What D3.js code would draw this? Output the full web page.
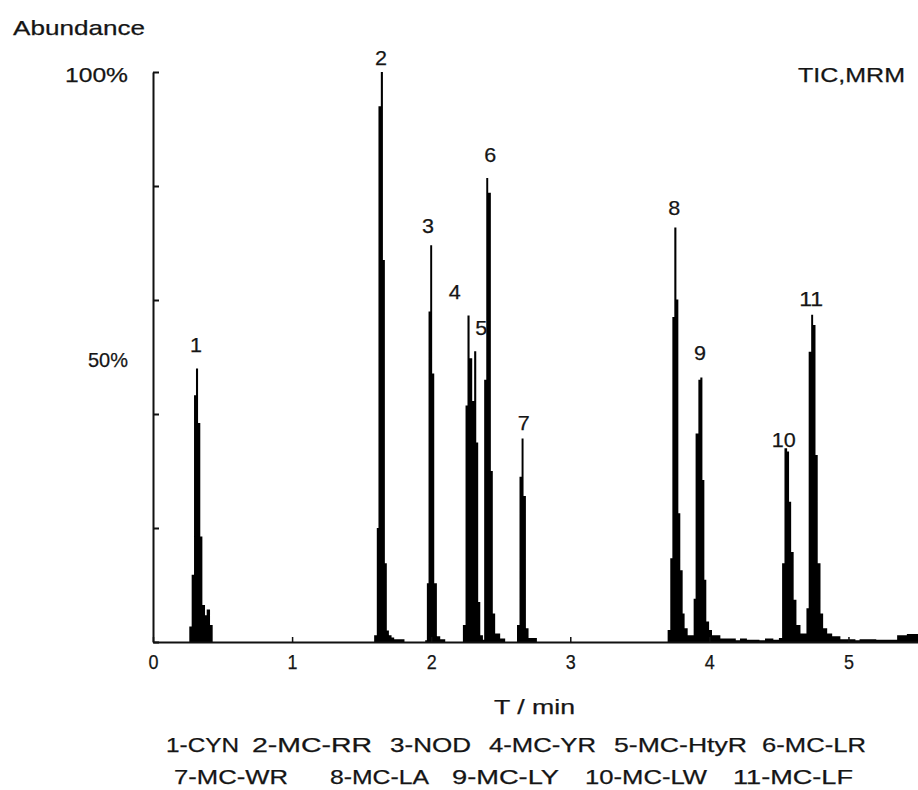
<!DOCTYPE html>
<html>
<head>
<meta charset="utf-8">
<script src="https://cdn.jsdelivr.net/npm/d3@7"></script>
<style>
  html, body { margin: 0; padding: 0; background: #fff; }
  svg { display: block; }
  text { font-family: "Liberation Sans", Arial, sans-serif; fill: #151515; stroke: #151515; stroke-width: 0.25; }
</style>
</head>
<body>
<svg id="chart" width="918" height="790"></svg>
<script>
// ---------- data ----------
// retention time (min) and abundance (%) of the step trace (TIC, MRM)
const times = [
  0,
  0.261, 0.278, 0.295, 0.309, 0.324, 0.340, 0.355, 0.374, 0.386, 0.410, 0.429,
  1.590, 1.609, 1.621, 1.638, 1.653, 1.667, 1.681, 1.696, 1.715, 1.734, 1.808,
  1.957, 1.969, 1.981, 1.993, 2.007, 2.022, 2.041, 2.065, 2.101,
  2.228, 2.247, 2.261, 2.276, 2.295, 2.309, 2.324, 2.338, 2.353, 2.372,
  2.381, 2.396, 2.410, 2.429, 2.443, 2.460, 2.496, 2.532,
  2.617, 2.635, 2.650, 2.664, 2.681, 2.700, 2.760,
  3.700, 3.719, 3.734, 3.748, 3.763, 3.777, 3.791, 3.808, 3.822, 3.844,
  3.887, 3.901, 3.921, 3.935, 3.950, 3.964, 3.978, 3.998, 4.019, 4.079,
  4.190, 4.220, 4.270, 4.360, 4.400, 4.460, 4.500,
  4.523, 4.540, 4.559, 4.573, 4.588, 4.606, 4.626, 4.655,
  4.698, 4.714, 4.732, 4.746, 4.763, 4.779, 4.799, 4.818, 4.847, 4.883, 4.942,
  5.050, 5.080, 5.200, 5.350, 5.420, 5.500
];
const abundance = [
  0,
  2.7, 11.8, 43.3, 48.0, 38.4, 18.5, 6.5, 4.7, 5.7, 3.0, 0,
  1.2, 20.0, 94.0, 100, 67.0, 13.8, 2.0, 1.2, 0.8, 0.5, 0,
  0.3, 10.3, 58.0, 69.6, 47.1, 10.3, 1.0, 0.5, 0,
  3.0, 41.5, 57.3, 49.8, 42.3, 51.0, 35.0, 7.0, 1.2, 0.4,
  46.0, 81.4, 78.8, 30.0, 5.0, 1.5, 0.6, 0,
  3.0, 29.0, 35.7, 25.6, 2.4, 0.7, 0,
  2.1, 14.7, 57.0, 72.7, 60.1, 22.6, 12.6, 5.0, 2.4, 1.2,
  7.6, 36.6, 46.0, 46.4, 28.4, 10.9, 3.6, 2.1, 1.2, 0.6,
  0.3, 0.6, 0.4, 0.3, 0.6, 0.4, 0.7,
  13.8, 34.0, 33.4, 24.6, 15.8, 7.4, 3.0, 1.5,
  5.9, 50.9, 57.4, 55.6, 32.8, 13.8, 5.0, 2.4, 1.5, 1.0, 0.5,
  0.3, 0.5, 0.4, 1.2, 1.4, 1.2
];

// peak numbers and where they are written (time, abundance)
const peakNumbers   = ["1", "2", "3", "4", "5", "6", "7", "8", "9", "10", "11"];
const peakLabelTime = [0.309, 1.640, 1.978, 2.169, 2.360, 2.424, 2.665, 3.748, 3.933, 4.535, 4.732];
const peakLabelAbun = [50.9, 101.2, 71.8, 60.2, 53.9, 84.2, 37.2, 74.9, 49.5, 34.2, 58.9];

const xTickValues = [0, 1, 2, 3, 4, 5];
const yTickValues = [0, 20, 40, 60, 80, 100];
const yLabelValues = [100, 50];
const yLabelTexts  = ["100%", "50%"];

const legendRow1 = ["1-CYN", "2-MC-RR", "3-NOD", "4-MC-YR", "5-MC-HtyR", "6-MC-LR"];
const legendRow2 = ["7-MC-WR", "8-MC-LA", "9-MC-LY", "10-MC-LW", "11-MC-LF"];

const yTitle = "Abundance";
const xTitle = "T / min";
const cornerNote = "TIC,MRM";

// ---------- layout ----------
const svg = d3.select("#chart");
const FS = 21;

const x = d3.scaleLinear().domain([0, 5.5]).range([153, 918]);
const y = d3.scaleLinear().domain([0, 100]).range([642, 72]);

const pts = times.map((t, i) => ({ t, v: abundance[i] }));

// trace
const area = d3.area()
  .x(d => x(d.t))
  .y0(y(0))
  .y1(d => y(d.v))
  .curve(d3.curveStepAfter);
svg.append("path").datum(pts)
  .attr("d", area)
  .attr("fill", "#000");

// y axis (ticks inside)
const yAxis = svg.append("g")
  .attr("transform", `translate(${x(0)},0)`)
  .call(d3.axisRight(y).tickValues(yTickValues).tickSizeInner(6).tickSizeOuter(0).tickFormat(""));
yAxis.select(".domain").attr("stroke", "#111").attr("stroke-width", 2);
yAxis.selectAll(".tick line").attr("stroke", "#111").attr("stroke-width", 2);

// x axis (ticks inside)
const xAxis = svg.append("g")
  .attr("transform", `translate(0,${y(0)})`)
  .call(d3.axisBottom(x).tickValues(xTickValues).tickSizeInner(-5).tickSizeOuter(0).tickPadding(12).tickFormat(d3.format("d")));
xAxis.select(".domain").attr("stroke", "#111").attr("stroke-width", 2);
xAxis.selectAll(".tick line").attr("stroke", "#111").attr("stroke-width", 1.5);
xAxis.selectAll(".tick text")
  .attr("font-family", "Liberation Sans, Arial, sans-serif")
  .attr("font-size", FS)
  .attr("fill", "#151515")
  .attr("textLength", 10)
  .attr("lengthAdjust", "spacingAndGlyphs");

// y labels
const yLabW = [63, 40];
svg.append("g").selectAll("text")
  .data(yLabelValues)
  .join("text")
  .attr("x", 128)
  .attr("y", d => y(d) + 10)
  .attr("text-anchor", "end")
  .attr("font-size", FS)
  .attr("textLength", (d, i) => yLabW[i])
  .attr("lengthAdjust", "spacingAndGlyphs")
  .text((d, i) => yLabelTexts[i]);

// titles
svg.append("text").attr("x", 13).attr("y", 35).attr("font-size", FS)
  .attr("textLength", 132).attr("lengthAdjust", "spacingAndGlyphs").text(yTitle);
svg.append("text").attr("x", 798).attr("y", 82).attr("font-size", FS)
  .attr("textLength", 107).attr("lengthAdjust", "spacingAndGlyphs").text(cornerNote);
svg.append("text").attr("x", 494).attr("y", 714).attr("font-size", FS)
  .attr("textLength", 81).attr("lengthAdjust", "spacingAndGlyphs").text(xTitle);

// peak numbers
svg.append("g").selectAll("text")
  .data(peakNumbers)
  .join("text")
  .attr("x", (d, i) => x(peakLabelTime[i]))
  .attr("y", (d, i) => y(peakLabelAbun[i]))
  .attr("text-anchor", "middle")
  .attr("font-size", FS)
  .attr("textLength", d => d.length * 12)
  .attr("lengthAdjust", "spacingAndGlyphs")
  .text(d => d);

// legend rows
const row1Layout = [[166, 73], [252, 120], [390, 81], [489, 107], [614, 133], [762, 104]];
const row2Layout = [[174, 114], [330, 99], [452, 107], [585, 122], [733, 120]];
function legendRow(names, layout, baseY) {
  svg.append("g").selectAll("text")
    .data(names)
    .join("text")
    .attr("x", (d, i) => layout[i][0])
    .attr("y", baseY)
    .attr("font-size", FS)
    .attr("textLength", (d, i) => layout[i][1])
    .attr("lengthAdjust", "spacingAndGlyphs")
    .text(d => d);
}
legendRow(legendRow1, row1Layout, 752);
legendRow(legendRow2, row2Layout, 784);
</script>
</body>
</html>
